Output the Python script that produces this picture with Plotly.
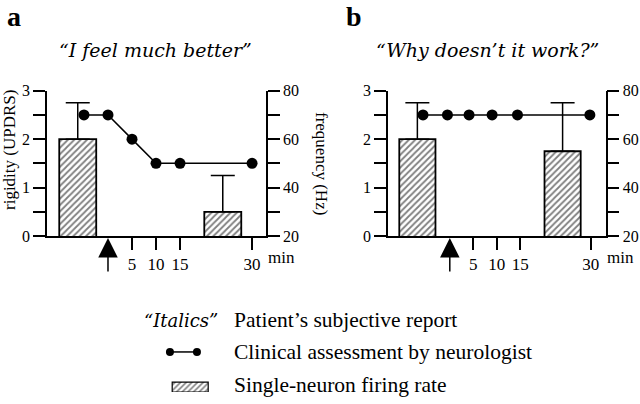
import plotly.graph_objects as go

# ---------------- data ----------------
panel_labels = ["a", "b"]
patient_quotes = ["\u201cI feel much better\u201d", "\u201cWhy doesn\u2019t it work?\u201d"]

times_a = [-5, 0, 5, 10, 15, 30]
rigidity_a = [2.5, 2.5, 2.0, 1.5, 1.5, 1.5]
times_b = [-5.7, -0.5, 4.1, 9.0, 14.4, 29.8]
rigidity_b = [2.5, 2.5, 2.5, 2.5, 2.5, 2.5]

bar_times_a = [-6.3, 23.9]
firing_a = [60, 30]
firing_err_a = [15, 15]
bar_times_b = [-6.9, 24.0]
firing_b = [60, 55]
firing_err_b = [15, 20]

intervention_time = 0
x_tick_vals = [5, 10, 15, 30]
x_tick_text = ["5", "10", "15", "30"]
rig_tick_vals = [0, 0.5, 1, 1.5, 2, 2.5, 3]
rig_tick_text = ["0", "", "1", "", "2", "", "3"]
hz_tick_vals = [20, 30, 40, 50, 60, 70, 80]
hz_tick_text = ["20", "", "40", "", "60", "", "80"]

legend_texts = ["Patient\u2019s subjective report",
                "Clinical assessment by neurologist",
                "Single-neuron firing rate"]

# ---------------- layout helpers ----------------
W, H = 640, 404
def px(x):
    return x / W
def py(y):
    return 1 - y / H

SERIF = "Liberation Serif"
ITAL = "DejaVu Serif"
BLACK = "black"

fig = go.Figure()

panels = [
    dict(xa="x", ya="y", ya2="y2", times=times_a, rig=rigidity_a,
         bt=bar_times_a, fr=firing_a, fe=firing_err_a),
    dict(xa="x3", ya="y3", ya2="y4", times=times_b, rig=rigidity_b,
         bt=bar_times_b, fr=firing_b, fe=firing_err_b),
]

for p in panels:
    fig.add_trace(go.Bar(
        x=p["bt"], y=p["fr"], width=7.7, xaxis=p["xa"], yaxis=p["ya2"],
        marker=dict(color="white", line=dict(color=BLACK, width=1.8),
                    pattern=dict(shape="/", fgcolor=BLACK, bgcolor="white",
                                 size=4.5, solidity=0.4)),
        error_y=dict(type="data", symmetric=False, array=p["fe"],
                     arrayminus=[0] * len(p["fe"]), color=BLACK,
                     thickness=1.5, width=12),
        showlegend=False))
    fig.add_trace(go.Scatter(
        x=p["times"], y=p["rig"], xaxis=p["xa"], yaxis=p["ya"],
        mode="lines+markers", line=dict(color=BLACK, width=1.5),
        marker=dict(symbol="circle", size=11, color=BLACK),
        cliponaxis=False, showlegend=False))

# legend samples (in a hidden axis)
fig.add_trace(go.Scatter(
    x=[0.11, 0.71], y=[0.89, 0.89], xaxis="x5", yaxis="y5",
    mode="lines+markers", line=dict(color=BLACK, width=1.5),
    marker=dict(size=8, color=BLACK), cliponaxis=False, showlegend=False))
fig.add_trace(go.Bar(
    x=[0.56], y=[0.22], width=[0.8], xaxis="x5", yaxis="y5",
    marker=dict(color="white", line=dict(color=BLACK, width=1.2),
                pattern=dict(shape="/", fgcolor=BLACK, bgcolor="white",
                             size=4, solidity=0.4)),
    showlegend=False))

ydom = [py(236), py(90.7)]
common_x = dict(showline=True, linecolor=BLACK, linewidth=1.5, ticks="outside",
                ticklen=12, tickwidth=1.5, tickcolor=BLACK, showgrid=False,
                zeroline=False, tickvals=x_tick_vals, ticktext=x_tick_text,
                automargin=False,
                tickfont=dict(family=SERIF, size=17, color=BLACK))
common_y = dict(showline=True, linecolor=BLACK, linewidth=1.5, ticks="outside",
                ticklen=12, tickwidth=1.5, tickcolor=BLACK, showgrid=False,
                zeroline=False, automargin=False,
                tickfont=dict(family=SERIF, size=16, color=BLACK))

fig.update_layout(
    width=W, height=H, margin=dict(l=0, r=0, t=0, b=0, pad=0, autoexpand=False),
    paper_bgcolor="white", plot_bgcolor="rgba(0,0,0,0)",
    barmode="overlay",
    xaxis=dict(domain=[px(47), px(266)], range=[-12.7, 32.9], anchor="y", **common_x),
    yaxis=dict(domain=ydom, range=[0, 3], anchor="x", tickvals=rig_tick_vals,
               ticktext=rig_tick_text, **common_y),
    yaxis2=dict(range=[20, 80], anchor="x", overlaying="y", side="right",
                tickvals=hz_tick_vals, ticktext=hz_tick_text, **common_y),
    xaxis3=dict(domain=[px(388), px(605.7)], range=[-13.15, 33.17], anchor="y3", **common_x),
    yaxis3=dict(domain=ydom, range=[0, 3], anchor="x3", tickvals=rig_tick_vals,
                ticktext=rig_tick_text, **common_y),
    yaxis4=dict(range=[20, 80], anchor="x3", overlaying="y3", side="right",
                tickvals=hz_tick_vals, ticktext=hz_tick_text, **common_y),
    xaxis5=dict(domain=[px(165), px(210)], range=[0, 1], visible=False, anchor="y5"),
    yaxis5=dict(domain=[py(392), py(347)], range=[0, 1], visible=False, anchor="x5"),
)

ann = []
# panel letters and quotes
for lab, q, lx, qx in zip(panel_labels, patient_quotes, [14, 354], [155, 487]):
    ann.append(dict(text="<b>" + lab + "</b>", x=px(lx), y=py(16), xref="paper", yref="paper",
                    showarrow=False, font=dict(family=SERIF, size=28, color=BLACK),
                    xanchor="center", yanchor="middle"))
    ann.append(dict(text="<i>" + q + "</i>", x=px(qx), y=py(50), xref="paper", yref="paper",
                    showarrow=False, font=dict(family=ITAL, size=19, color=BLACK),
                    xanchor="center", yanchor="middle"))

# arrows + "min"
for xa in ["x", "x3"]:
    ann.append(dict(text="", x=intervention_time, y=py(238), xref=xa, yref="paper",
                    showarrow=True, ax=0, ay=35, arrowhead=2, arrowsize=2.6,
                    arrowwidth=1.5, arrowcolor=BLACK))
    ann.append(dict(text="min", x=x_tick_vals[-1], y=py(257), xref=xa, yref="paper",
                    xshift=14, showarrow=False, xanchor="left", yanchor="middle",
                    font=dict(family=SERIF, size=17, color=BLACK)))

# axis titles
ann.append(dict(text="rigidity (UPDRS)", x=px(9), y=py(150), xref="paper", yref="paper",
                showarrow=False, textangle=-90, xanchor="center", yanchor="middle",
                font=dict(family=SERIF, size=17, color=BLACK)))
ann.append(dict(text="frequency (Hz)", x=px(322), y=py(163), xref="paper", yref="paper",
                showarrow=False, textangle=90, xanchor="center", yanchor="middle",
                font=dict(family=SERIF, size=17, color=BLACK)))

# legend texts
ann.append(dict(text="<i>\u201cItalics\u201d</i>", x=px(142), y=py(320), xref="paper", yref="paper",
                showarrow=False, xanchor="left", yanchor="middle",
                font=dict(family=ITAL, size=18, color=BLACK)))
for t, yy in zip(legend_texts, [320, 352, 385]):
    ann.append(dict(text=t, x=px(232), y=py(yy), xref="paper", yref="paper",
                    showarrow=False, xanchor="left", yanchor="middle",
                    font=dict(family=SERIF, size=21.5, color=BLACK)))

fig.update_layout(annotations=ann)
fig.write_html("out.html", config={"displayModeBar": False},
               post_script="document.body.style.margin='0';document.body.style.overflow='hidden';")
